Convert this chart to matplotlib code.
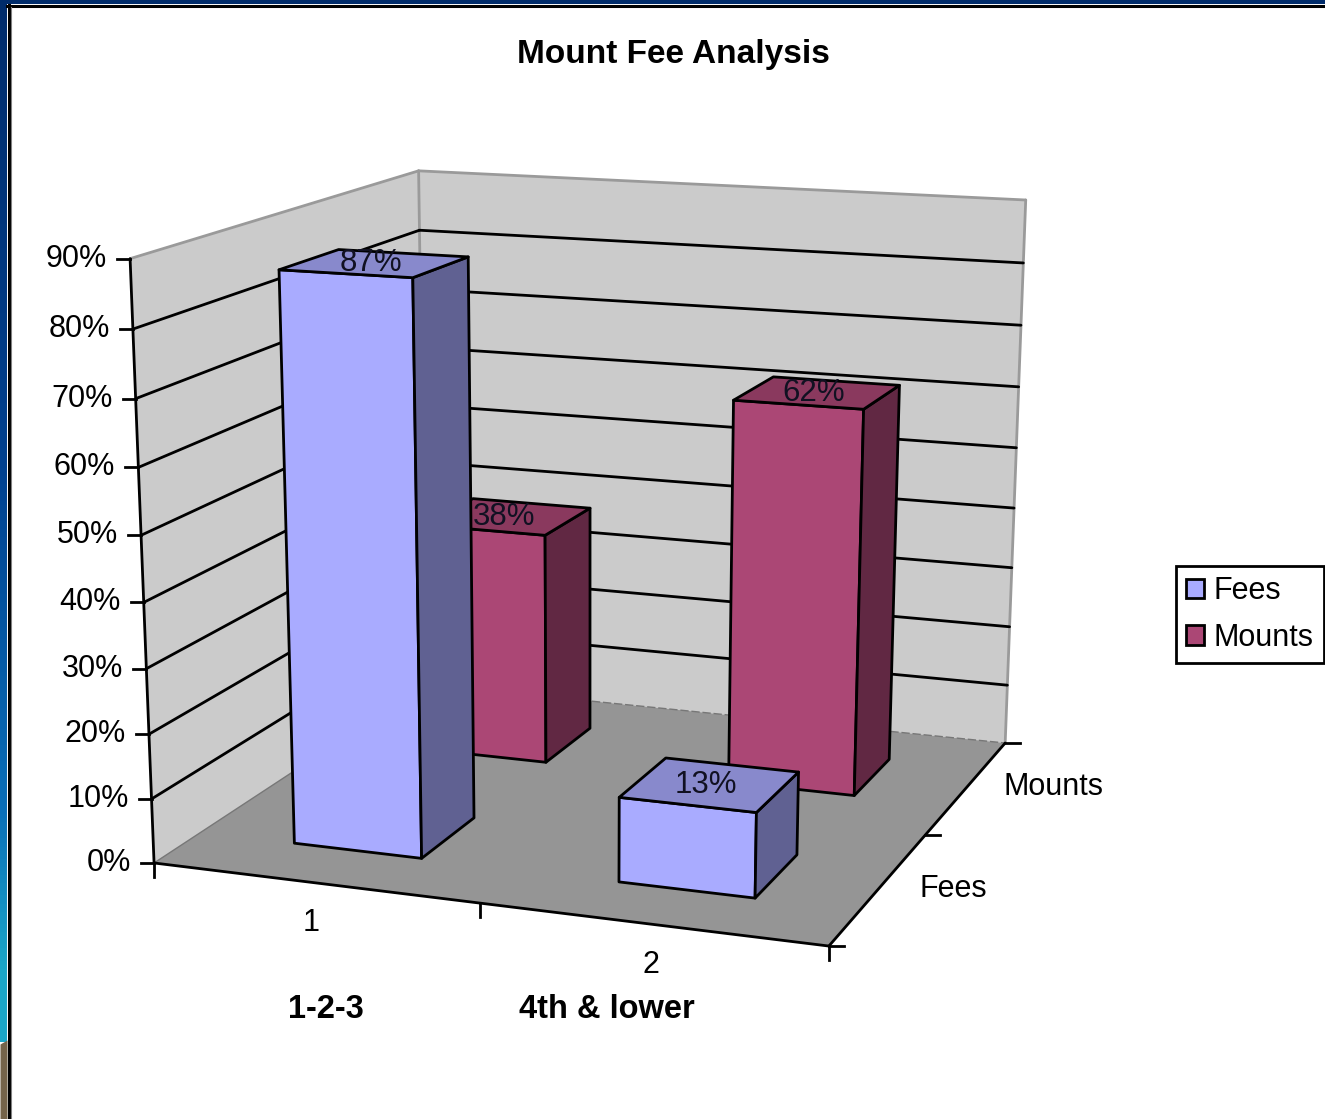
# -*- coding: utf-8 -*-
"""
Figure: Mount Fee Analysis, Excel style 3-D column chart.
Drawn on a 2-D axes in pixel units, through a camera matrix fitted to the box corners.

Output: out.png
"""

import numpy as np
import matplotlib.pyplot as plt
from matplotlib import rcParams
from matplotlib.colors import LinearSegmentedColormap
from matplotlib.patches import Patch, Polygon

rcParams['font.family'] = ['Liberation Sans', 'DejaVu Sans']

W, H = 1325, 1119

categories = ['1', '2']
category_names = ['1-2-3', '4th & lower']
series_names = ['Fees', 'Mounts']
fees = [0.87, 0.13]
mounts = [0.38, 0.62]
value_ticks = [0.0, 0.1, 0.2, 0.3, 0.4, 0.5, 0.6, 0.7, 0.8, 0.9]

# colours per series: front, top, side
FEES_COL = ('#A9ABFF', '#8889CC', '#606192')
MOUNTS_COL = ('#AB4775', '#8A395E', '#612843')
WALL = '#CBCBCB'
FLOOR = '#959595'
EDGE = '#9A9A9A'
LW = 2.0
FS = 22

# Camera: (category, series, value) -> picture pixel
ZMAX = value_ticks[-1]
CALIB = [
    ((0, 0, 0), (155, 863)),
    ((2, 0, 0), (828, 947)),
    ((2, 2, 0), (1006, 742)),
    ((0, 2, 0), (425, 685)),
    ((0, 0, ZMAX), (129, 258)),
    ((0, 2, ZMAX), (419, 171)),
    ((2, 2, ZMAX), (1026, 201)),
    ((0, 0, 0.5), (142, 535)),
    ((2, 2, 0.5), (1016, 447)),
]


def fit_camera(calib):
    rows = []
    for (x, y, z), (u, v) in calib:
        rows.append([x, y, z, 1, 0, 0, 0, 0, -u * x, -u * y, -u * z, -u])
        rows.append([0, 0, 0, 0, x, y, z, 1, -v * x, -v * y, -v * z, -v])
    return np.linalg.svd(np.array(rows, dtype=float))[2][-1].reshape(3, 4)


CAM = fit_camera(CALIB)


def pr(x, y, z):
    u, v, w = CAM @ np.array([x, y, z, 1.0])
    return u / w, v / w


def line(ax, a, b, **kw):
    pa, pb = pr(*a), pr(*b)
    kw.setdefault('color', 'black')
    kw.setdefault('lw', LW)
    ax.plot([pa[0], pb[0]], [pa[1], pb[1]], solid_capstyle='round', zorder=2, **kw)


def face(ax, pts, color, zorder=1, **kw):
    ax.add_patch(Polygon([pr(*p) for p in pts], closed=True, facecolor=color,
                         edgecolor=kw.pop('edgecolor', 'black'), linewidth=kw.pop('lw', LW),
                         joinstyle='round', zorder=zorder, **kw))


def bar3(ax, i, j, val, cols, zorder, gap=0.3):
    x0, x1 = i + gap, i + 1 - gap
    y0, y1 = j + gap, j + 1 - gap
    face(ax, [(x0, y0, 0), (x1, y0, 0), (x1, y0, val), (x0, y0, val)], cols[0], zorder)
    face(ax, [(x1, y0, 0), (x1, y1, 0), (x1, y1, val), (x1, y0, val)], cols[2], zorder)
    face(ax, [(x0, y0, val), (x1, y0, val), (x1, y1, val), (x0, y1, val)], cols[1], zorder)
    u, v = pr((x0 + x1) / 2, (y0 + y1) / 2, val)
    ax.text(u - 4, v, f'{val:.0%}', ha='center', va='center', fontsize=FS + 0.5, color='#111122', zorder=9)


fig = plt.figure(figsize=(W / 100, H / 100), dpi=100, facecolor='white')
ax = fig.add_axes([0, 0, 1, 1])
ax.axis('off')

# ── Window frame behind the chart ─────────────────────────────────────────
frame = LinearSegmentedColormap.from_list('frame', [
    (0.0, '#002C6B'), (0.45, '#00418F'), (0.78, '#0A6FB8'), (0.93, '#1BA6C8'), (1.0, '#1BA6C8')])
ax.imshow(np.linspace(0, 1, 256)[:, None], cmap=frame, extent=(0, 7, 1042, 0), aspect='auto', zorder=0)
ax.set_xlim(0, W)
ax.set_ylim(H, 0)
ax.fill_between([0, 7], [1044, 1040], [H, H], color='#75644A', lw=0, zorder=0)
ax.fill_between([0, W], [0, 0], [4, 4], color='#002C6B', lw=0, zorder=0)
ax.plot([8.5, 8.5], [H, 5], color='black', lw=2.2, zorder=1)
ax.plot([7, W], [5.5, 5.5], color='black', lw=2.2, zorder=1)
ax.plot([10.5, 10.5], [H, 7], color='#808080', lw=0.8, zorder=1)

# ── Walls and floor ───────────────────────────────────────────────────────
face(ax, [(0, 0, 0), (0, 2, 0), (0, 2, ZMAX), (0, 0, ZMAX)], WALL, edgecolor='none', lw=0)
face(ax, [(0, 2, 0), (2, 2, 0), (2, 2, ZMAX), (0, 2, ZMAX)], WALL, edgecolor='none', lw=0)
face(ax, [(0, 0, 0), (2, 0, 0), (2, 2, 0), (0, 2, 0)], FLOOR, edgecolor='none', lw=0)

line(ax, (0, 0, ZMAX), (0, 2, ZMAX), color=EDGE)
line(ax, (0, 2, ZMAX), (2, 2, ZMAX), color=EDGE)
line(ax, (0, 2, ZMAX), (0, 2, 0), color=EDGE)
line(ax, (2, 2, ZMAX), (2, 2, 0), color=EDGE)
line(ax, (0, 0, 0), (0, 2, 0), color='#777777', lw=1.0)
line(ax, (0, 2, 0), (2, 2, 0), color='#777777', lw=1.0, linestyle=(0, (6, 2)))

for z in value_ticks[1:-1]:
    line(ax, (0, 0, z), (0, 2, z))
    line(ax, (0, 2, z), (2, 2, z))

# ── Axes, ticks and tick labels ───────────────────────────────────────────
line(ax, (0, 0, 0), (0, 0, ZMAX))
line(ax, (0, 0, 0), (2, 0, 0))
line(ax, (2, 0, 0), (2, 2, 0))

for z in value_ticks:
    u, v = pr(0, 0, z)
    ax.plot([u - 13, u], [v, v], color='black', lw=LW)
    ax.text(u - 23, v, f'{z:.0%}', ha='right', va='center', fontsize=FS)

for i in range(len(categories) + 1):
    u, v = pr(i, 0, 0)
    ax.plot([u, u], [v, v + 14], color='black', lw=LW)

for j in range(len(series_names) + 1):
    u, v = pr(2, j, 0)
    ax.plot([u, u + 15], [v, v], color='black', lw=LW)

ax.text(311, 923, categories[0], ha='center', va='center', fontsize=FS)
ax.text(651, 965, categories[1], ha='center', va='center', fontsize=FS)
ax.text(326, 1010, category_names[0], ha='center', va='center', fontsize=23.5, fontweight='bold')
ax.text(607, 1010, category_names[1], ha='center', va='center', fontsize=23.5, fontweight='bold')
ax.text(919, 889, series_names[0], ha='left', va='center', fontsize=FS)
ax.text(1004, 787, series_names[1], ha='left', va='center', fontsize=FS)

# ── Bars, back row first ──────────────────────────────────────────────────
for i, val in enumerate(mounts):
    bar3(ax, i, 1, val, MOUNTS_COL, 3 + i)
for i, val in enumerate(fees):
    bar3(ax, i, 0, val, FEES_COL, 5 + i)

ax.text(673, 54, 'Mount Fee Analysis', ha='center', va='center', fontsize=24, fontweight='bold')

handles = [Patch(facecolor=FEES_COL[0], edgecolor='black', linewidth=LW),
           Patch(facecolor=MOUNTS_COL[0], edgecolor='black', linewidth=LW)]
leg = ax.legend(handles, series_names, loc='upper left', bbox_to_anchor=(1176, 566),
                bbox_transform=ax.transData, fontsize=FS, frameon=True, fancybox=False,
                edgecolor='black', framealpha=1, borderaxespad=0, handlelength=0.6,
                handleheight=0.6, handletextpad=0.3, labelspacing=0.55, borderpad=0.33)
leg.get_frame().set_linewidth(LW)
leg.set_zorder(10)

fig.savefig('out.png', dpi=100, facecolor='white')
